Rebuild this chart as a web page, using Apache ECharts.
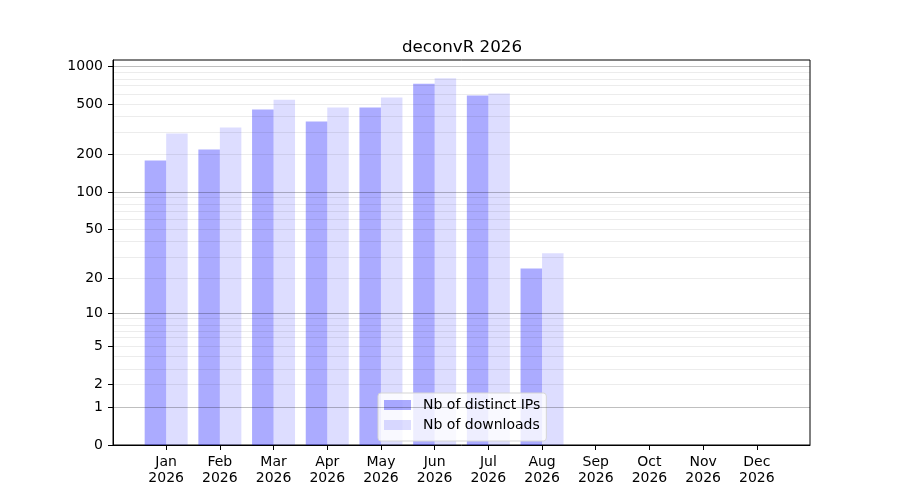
<!DOCTYPE html>
<html>
<head>
<meta charset="utf-8">
<script src="https://cdn.jsdelivr.net/npm/echarts@6/dist/echarts.min.js"></script>
<style>
  html, body { margin: 0; background: #fff; }
  #chart { width: 900px; height: 500px; }
</style>
</head>
<body>
<div id="chart"></div>
<script>
const months = ["Jan", "Feb", "Mar", "Apr", "May", "Jun", "Jul", "Aug", "Sep", "Oct", "Nov", "Dec"];
const year = "2026";
const distinctIps = [178, 218, 452, 363, 469, 726, 584, 24, 0, 0, 0, 0];
const downloads = [292, 326, 542, 469, 563, 800, 606, 32, 0, 0, 0, 0];
const yTicks = [0, 1, 2, 5, 10, 20, 50, 100, 200, 500, 1000];
const majorGrid = [1, 10, 100, 1000];
const decades = [1, 10, 100];

const font = "DejaVu Sans";
// y scale is log10(1 + v), labels show the raw counts
const tf = (v) => Math.log10(1 + v);
const yMax = tf(Math.max(...downloads)) * 1.05;

const minorGrid = [];
decades.forEach((d) => {
  for (let m = 2; m <= 9; m++) minorGrid.push(d * m);
});

const gridLines = [
  ...minorGrid.map((v) => ({ yAxis: tf(v), lineStyle: { color: "rgba(0,0,0,0.075)", width: 1, type: "solid" } })),
  ...majorGrid.map((v) => ({ yAxis: tf(v), lineStyle: { color: "rgba(0,0,0,0.25)", width: 1, type: "solid" } })),
];

const myChart = echarts.init(document.getElementById("chart"));
const option = {
  animation: false,
  title: {
    text: "deconvR " + year,
    left: 397,
    top: 34,
    textStyle: { fontFamily: font, fontSize: 16.7, fontWeight: "normal", color: "#000" },
  },
  legend: {
    data: ["Nb of distinct IPs", "Nb of downloads"],
    orient: "vertical",
    left: 378,
    top: 393,
    icon: "rect",
    itemWidth: 27,
    itemHeight: 10,
    itemGap: 6,
    padding: [5, 6, 9, 6],
    backgroundColor: "rgba(255,255,255,0.8)",
    borderColor: "#d5d5d5",
    borderWidth: 1,
    borderRadius: 3,
    textStyle: { fontFamily: font, fontSize: 14, color: "#000", padding: [0, 0, 0, 7] },
  },
  grid: {
    left: 113,
    right: 90,
    top: 60,
    bottom: 55,
    show: true,
    borderColor: "#000",
    borderWidth: 1,
  },
  xAxis: {
    type: "value",
    min: -0.99,
    max: 11.99,
    axisLine: { show: true, onZero: false, lineStyle: { color: "#000", width: 1 } },
    axisTick: { show: true, length: 5, lineStyle: { color: "#000" }, customValues: months.map((m, i) => i) },
    axisLabel: {
      customValues: months.map((m, i) => i),
      formatter: (v) => months[Math.round(v)] + "\n" + year,
      fontFamily: font,
      fontSize: 14,
      lineHeight: 16,
      color: "#000",
      margin: 9,
    },
    splitLine: { show: false },
  },
  yAxis: {
    type: "value",
    min: 0,
    max: yMax,
    axisLine: { show: true, onZero: false, lineStyle: { color: "#000", width: 1 } },
    axisTick: { show: true, length: 5, lineStyle: { color: "#000" }, customValues: yTicks.map(tf) },
    axisLabel: {
      customValues: yTicks.map(tf),
      formatter: (v) => String(Math.round(Math.pow(10, v) - 1)),
      fontFamily: font,
      fontSize: 14,
      color: "#000",
      margin: 10,
    },
    splitLine: { show: false },
  },
  series: [
    {
      name: "Nb of distinct IPs",
      type: "bar",
      barWidth: 21.5,
      barGap: "0%",
      itemStyle: { color: "rgba(0,0,255,0.33)" },
      data: months.map((m, i) => [i, tf(distinctIps[i])]),
    },
    {
      name: "Nb of downloads",
      type: "bar",
      barWidth: 21.5,
      barGap: "0%",
      itemStyle: { color: "rgba(0,0,255,0.135)" },
      data: months.map((m, i) => [i, tf(downloads[i])]),
    },
    {
      name: "grid",
      type: "line",
      data: [],
      silent: true,
      markLine: {
        silent: true,
        symbol: ["none", "none"],
        label: { show: false },
        emphasis: { disabled: true },
        data: gridLines,
      },
    },
  ],
};
option && myChart.setOption(option);
</script>
</body>
</html>
